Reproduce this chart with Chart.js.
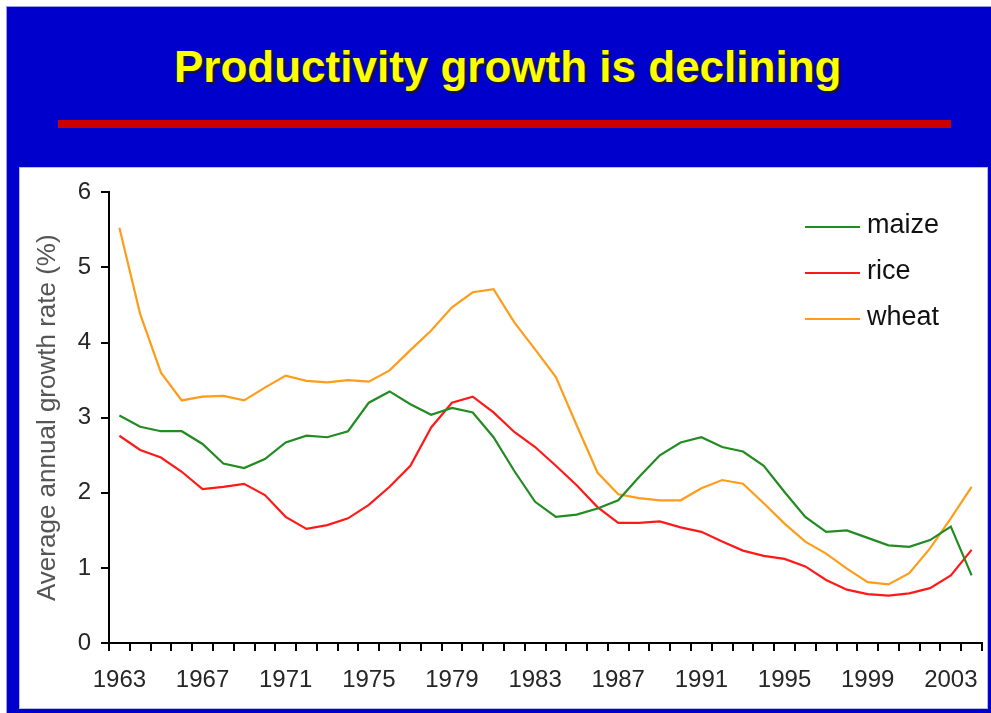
<!DOCTYPE html>
<html>
<head>
<meta charset="utf-8">
<script src="https://cdn.jsdelivr.net/npm/chart.js@4/dist/chart.umd.min.js"></script>
<style>
  html, body { margin: 0; padding: 0; background: #fff; }
  body { width: 991px; height: 713px; position: relative; overflow: hidden; font-family: "Liberation Sans", Arial, sans-serif; }
  #slide { position: absolute; left: 7px; top: 7px; right: 0; bottom: 0; background: #0000cc; box-shadow: 0 0 0 1px #9a9aee; }
  #title { position: absolute; left: 174px; top: 45px; font-size: 44px; line-height: 44px; font-weight: bold;
           color: #ffff00; white-space: nowrap; text-shadow: 2px 2px 1px #1a1a1a; }
  #rule { position: absolute; left: 58px; top: 120px; width: 893px; height: 8px; background: #cc0000; }
  #panel { position: absolute; left: 20px; top: 168px; width: 967px; height: 540px; background: #fff; box-shadow: 0 0 0 1px #b8b8f0; }
  #panel canvas { display: block; }
</style>
</head>
<body>
<div id="slide"></div>
<div id="title">Productivity growth is declining</div>
<div id="rule"></div>
<div id="panel"><canvas id="chart" width="967" height="540"></canvas></div>

<script>
// data
const years = [];
for (let y = 1963; y <= 2004; y++) years.push(String(y));

const maize = [3.03, 2.88, 2.82, 2.82, 2.65, 2.39, 2.33, 2.45, 2.67, 2.76,
               2.74, 2.82, 3.20, 3.35, 3.18, 3.04, 3.13, 3.07, 2.74, 2.29,
               1.88, 1.68, 1.71, 1.79, 1.90, 2.21, 2.50, 2.67, 2.74, 2.61,
               2.55, 2.36, 2.01, 1.68, 1.48, 1.50, 1.40, 1.30, 1.28, 1.37,
               1.55, 0.90];
const rice  = [2.76, 2.57, 2.47, 2.28, 2.05, 2.08, 2.12, 1.97, 1.68, 1.52,
               1.57, 1.66, 1.84, 2.08, 2.36, 2.87, 3.20, 3.28, 3.07, 2.81,
               2.61, 2.36, 2.10, 1.81, 1.60, 1.60, 1.62, 1.54, 1.48, 1.35,
               1.23, 1.16, 1.12, 1.02, 0.84, 0.71, 0.65, 0.63, 0.66, 0.73,
               0.90, 1.24];
const wheat = [5.53, 4.38, 3.60, 3.23, 3.28, 3.29, 3.23, 3.40, 3.56, 3.49,
               3.47, 3.50, 3.48, 3.63, 3.90, 4.16, 4.47, 4.67, 4.71, 4.27,
               3.91, 3.54, 2.90, 2.27, 1.98, 1.93, 1.90, 1.90, 2.06, 2.17,
               2.12, 1.86, 1.59, 1.35, 1.19, 0.99, 0.81, 0.78, 0.93, 1.26,
               1.66, 2.08];

const seriesNames  = ['maize', 'rice', 'wheat'];
const seriesColors = ['#228b22', '#ff1a1a', '#ff9c1a'];
const yTitle = 'Average annual growth rate (%)';

// legend drawn inside the plot, top right
const insideLegend = {
  id: 'insideLegend',
  afterDatasetsDraw(chart) {
    const ctx = chart.ctx;
    ctx.save();
    ctx.font = '27px "Liberation Sans", Arial, sans-serif';
    ctx.textBaseline = 'middle';
    chart.data.datasets.forEach((ds, i) => {
      const y = 59 + i * 46;
      ctx.strokeStyle = ds.borderColor;
      ctx.lineWidth = 2;
      ctx.beginPath();
      ctx.moveTo(785, y);
      ctx.lineTo(840, y);
      ctx.stroke();
      ctx.fillStyle = '#111';
      ctx.fillText(ds.label, 847, y - 1);
    });
    ctx.restore();
  }
};

const tickFont = { family: '"Liberation Sans", Arial, sans-serif', size: 24 };

new Chart(document.getElementById('chart'), {
  type: 'line',
  data: {
    labels: years,
    datasets: [maize, rice, wheat].map((d, i) => ({
      label: seriesNames[i],
      data: d,
      borderColor: seriesColors[i],
      backgroundColor: seriesColors[i],
      borderWidth: 2.2,
      pointRadius: 0,
      tension: 0
    }))
  },
  options: {
    responsive: false,
    animation: false,
    layout: { padding: { top: 23, right: 5, left: 0, bottom: 0 } },
    plugins: { legend: { display: false }, tooltip: { enabled: false } },
    scales: {
      x: {
        type: 'category',
        offset: true,
        grid: { offset: true, drawOnChartArea: false, drawTicks: true, tickLength: 8, color: '#000', lineWidth: 2 },
        border: { color: '#000', width: 2 },
        ticks: {
          autoSkip: false, maxRotation: 0, minRotation: 0,
          font: tickFont, color: '#262626', padding: 15,
          callback: (v, i) => (i % 4 === 0 ? years[i] : '')
        },
        afterFit: s => { s.height = 65; }
      },
      y: {
        min: 0, max: 6,
        grid: { drawOnChartArea: false, drawTicks: true, tickLength: 8, color: '#000', lineWidth: 2 },
        border: { color: '#000', width: 2 },
        ticks: { stepSize: 1, font: tickFont, color: '#262626', padding: 10 },
        title: {
          display: true, text: yTitle, color: '#555',
          font: { family: '"Liberation Sans", Arial, sans-serif', size: 26 },
          padding: { top: 12, bottom: 0 }
        },
        afterFit: s => { s.width = 89; }
      }
    }
  },
  plugins: [insideLegend]
});
</script>
</body>
</html>
